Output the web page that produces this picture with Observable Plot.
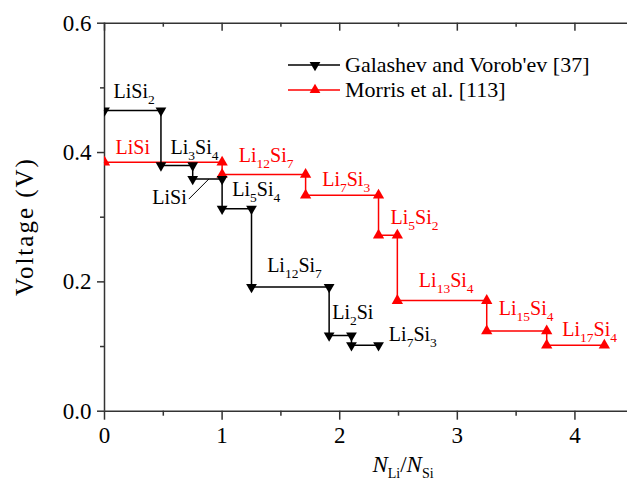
<!DOCTYPE html>
<html><head><meta charset="utf-8">
<script src="https://cdn.jsdelivr.net/npm/d3@7"></script>
<script src="https://cdn.jsdelivr.net/npm/@observablehq/plot@0.6"></script>
<style>
html,body{margin:0;padding:0;background:#fff;overflow:hidden}
#chart{position:relative;width:627px;height:481px}
</style></head><body><div id="chart"></div>
<script>
// Galashev and Vorob'ev [37] — step curve vertices
const galashevX = [0, 0.48, 0.48, 0.75, 0.75, 1.0, 1.0, 1.25, 1.25, 1.91, 1.91, 2.1, 2.1, 2.33];
const galashevV = [0.465, 0.465, 0.380, 0.380, 0.359, 0.359, 0.313, 0.313, 0.192, 0.192, 0.117, 0.117, 0.102, 0.102];
// Morris et al. [113]
const morrisX = [0, 1.0, 1.0, 1.71, 1.71, 2.33, 2.33, 2.49, 2.49, 3.25, 3.25, 3.76, 3.76, 4.25];
const morrisV = [0.385, 0.385, 0.366, 0.366, 0.334, 0.334, 0.272, 0.272, 0.171, 0.171, 0.124, 0.124, 0.102, 0.102];

// phase labels (annotation anchors in data units)
const galashevLabels = ["LiSi2", "Li3Si4", "LiSi", "Li5Si4", "Li12Si7", "Li2Si", "Li7Si3"];
const galashevLabelX = [0.077, 0.561, 0.406, 1.086, 1.383, 1.936, 2.418];
const galashevLabelV = [0.485, 0.398, 0.321, 0.3335, 0.215, 0.143, 0.109];
const morrisLabels = ["LiSi", "Li12Si7", "Li7Si3", "Li5Si2", "Li13Si4", "Li15Si4", "Li17Si4"];
const morrisLabelX = [0.094, 1.142, 1.851, 2.432, 2.673, 3.353, 3.892];
const morrisLabelV = [0.398, 0.385, 0.349, 0.290, 0.192, 0.148, 0.117];
// leader line for the black "LiSi" label
const leaderX1 = [0.717], leaderV1 = [0.328], leaderX2 = [0.887], leaderV2 = [0.359];

const xTicks = [0, 1, 2, 3, 4];
const xMinor = [0.5, 1.5, 2.5, 3.5];
const yTicks = [0, 0.2, 0.4, 0.6];
const yMinor = [0.1, 0.3, 0.5];
const seriesNames = ["Galashev and Vorob'ev [37]", "Morris et al. [113]"];

const galashev = galashevX.map((x, i) => ({x, v: galashevV[i]}));
const morris = morrisX.map((x, i) => ({x, v: morrisV[i]}));
const gLab = galashevLabels.map((t, i) => ({t, x: galashevLabelX[i], v: galashevLabelV[i]}));
const mLab = morrisLabels.map((t, i) => ({t, x: morrisLabelX[i], v: morrisLabelV[i]}));
const leader = leaderX1.map((x, i) => ({x1: x, v1: leaderV1[i], x2: leaderX2[i], v2: leaderV2[i]}));

const W = 627, H = 481, mT = 22.7, mB = 70.3, mL = 104, mR = 0;
const frameH = H - mT - mB;
const axisColor = "#333";
const font = "'Liberation Serif','Times New Roman',serif";
const RED = "#ff0000";

const chart = Plot.plot({
  width: W, height: H,
  marginLeft: mL, marginRight: mR, marginTop: mT, marginBottom: mB,
  x: {domain: [0, 4.447], label: null},
  y: {domain: [0, 0.6], label: null},
  style: {fontFamily: font, fontSize: "23px", color: "#000", background: "#fff", overflow: "visible"},
  marks: [
    Plot.ruleY([0, 0.6], {stroke: axisColor, strokeWidth: 1.5}),
    Plot.ruleX([0], {stroke: axisColor, strokeWidth: 1.5}),
    Plot.axisX(xTicks, {tickSize: 9, tickPadding: 6, tickFormat: d => String(d), stroke: axisColor, strokeWidth: 1.5, fontSize: 23, label: null}),
    Plot.axisX(xMinor, {tickSize: 5, tickFormat: () => "", stroke: axisColor, strokeWidth: 1.5, label: null}),
    Plot.axisY(yTicks, {tickSize: 7, tickPadding: 6, tickFormat: d3.format(".1f"), stroke: axisColor, strokeWidth: 1.5, fontSize: 23, label: null}),
    Plot.axisY(yMinor, {tickSize: 4, tickFormat: () => "", stroke: axisColor, strokeWidth: 1.5, label: null}),
    Plot.ruleX(xTicks, {stroke: axisColor, strokeWidth: 1.5, insetBottom: frameH - 8}),
    Plot.ruleX(xMinor, {stroke: axisColor, strokeWidth: 1.5, insetBottom: frameH - 4}),
    Plot.line(morris, {x: "x", y: "v", stroke: RED, strokeWidth: 1.5}),
    Plot.dot(morris, {x: "x", y: "v", symbol: "triangle", r: 4.2, fill: RED, clip: true}),
    Plot.line(galashev, {x: "x", y: "v", stroke: "#000", strokeWidth: 1.5}),
    Plot.dot(galashev, {x: "x", y: "v", symbol: "triangle", rotate: 180, r: 4, fill: "#000", clip: true}),
    Plot.link(leader, {x1: "x1", y1: "v1", x2: "x2", y2: "v2", stroke: "#000", strokeWidth: 1}),
    Plot.text(gLab, {x: "x", y: "v", text: "t", textAnchor: "start", lineAnchor: "bottom", fill: "#000", fontSize: 20}),
    Plot.text(mLab, {x: "x", y: "v", text: "t", textAnchor: "start", lineAnchor: "bottom", fill: RED, fontSize: 20})
  ]
});

const svg = d3.select(chart);
// subscripts for the phase labels
svg.selectAll('g[aria-label="text"] text').each(function () {
  const s = this.textContent;
  this.textContent = "";
  const parts = s.match(/\d+|\D+/g);
  let down = false;
  for (const p of parts) {
    const t = d3.select(this).append("tspan").text(p);
    if (/\d/.test(p)) { t.attr("font-size", 13.5).attr("dy", 6); down = true; }
    else if (down) { t.attr("dy", -6); down = false; }
  }
});

// axis titles
svg.append("text")
  .attr("transform", "translate(33,226.5) rotate(-90)")
  .attr("text-anchor", "middle")
  .attr("font-family", font).attr("font-size", 25).attr("letter-spacing", "2px").attr("fill", "#000")
  .text("Voltage (V)");
const xt = svg.append("text")
  .attr("x", 403).attr("y", 472).attr("text-anchor", "middle")
  .attr("font-family", font).attr("font-size", 23).attr("fill", "#000");
xt.append("tspan").attr("font-style", "italic").text("N");
xt.append("tspan").attr("font-size", 14).attr("dy", 6).text("Li");
xt.append("tspan").attr("dy", -6).text("/");
xt.append("tspan").attr("font-style", "italic").text("N");
xt.append("tspan").attr("font-size", 14).attr("dy", 6).text("Si");

// legend
const leg = svg.append("g").attr("font-family", font).attr("font-size", 22).attr("text-anchor", "start");
const legItems = [
  {name: seriesNames[0], color: "#000", rot: 180, y: 65},
  {name: seriesNames[1], color: RED, rot: 0, y: 90}
];
for (const it of legItems) {
  leg.append("line").attr("x1", 288).attr("x2", 340).attr("y1", it.y).attr("y2", it.y)
    .attr("stroke", it.color).attr("stroke-width", 1.5);
  leg.append("path").attr("d", d3.symbol(d3.symbolTriangle, Math.PI * 16)())
    .attr("transform", `translate(315,${it.y}) rotate(${it.rot})`).attr("fill", it.color);
  leg.append("text").attr("x", 345).attr("y", it.y).attr("dy", "0.32em").attr("text-anchor", "start").attr("fill", "#000").text(it.name);
}

document.getElementById("chart").appendChild(chart);
</script>
</body></html>
